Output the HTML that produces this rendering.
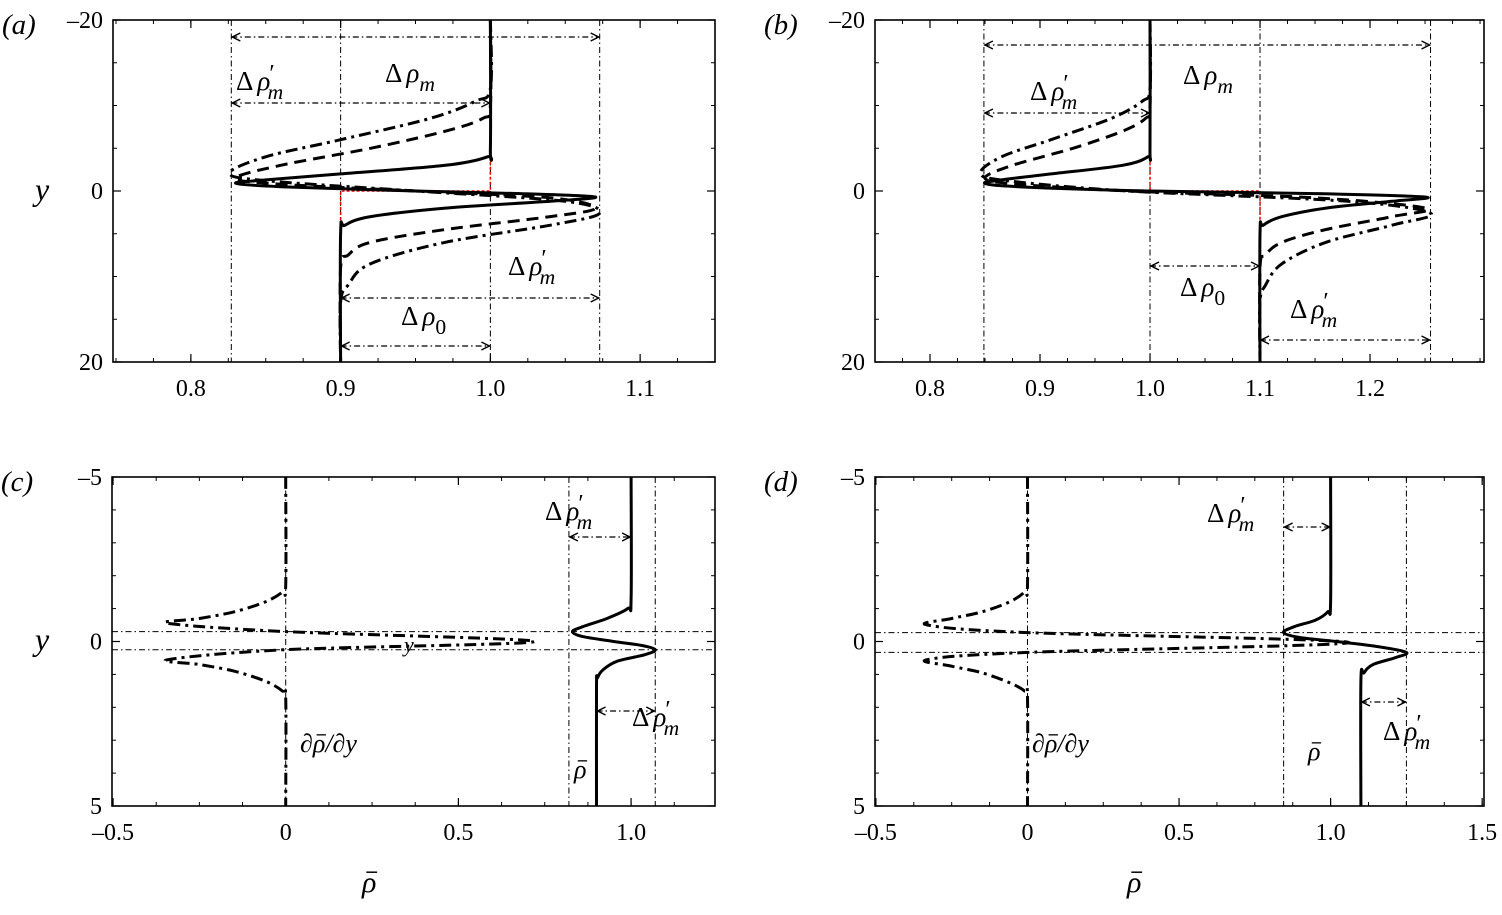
<!DOCTYPE html>
<html><head><meta charset="utf-8">
<style>
html,body{margin:0;padding:0;background:#fff;}
svg{display:block;font-family:"Liberation Serif","DejaVu Serif",serif;}
</style></head>
<body>
<svg id="fig" width="1502" height="915" viewBox="0 0 1502 915" xmlns="http://www.w3.org/2000/svg"></svg>
<script>
// ---------- data: panel (a) ----------
const aSolidY   = [-20,-5,-4,-3,-2,-1.3,-0.9,-0.5,0,0.3,0.7,1.2,2,3,4,5,20];
const aSolidR   = [1,1,0.998,0.97,0.9,0.85,0.83,0.86,0.95,1.02,1.07,1.04,0.97,0.92,0.903,0.9,0.9];
const aDashY    = [-20,-10,-8.5,-7,-5,-3,-1.5,-0.8,0,0.8,2,3,4.5,6,7.5,9,20];
const aDashR    = [1,1,0.995,0.97,0.92,0.86,0.83,0.86,0.95,1.04,1.07,1.04,0.97,0.92,0.905,0.9,0.9];
const aDotY     = [-20,-12,-10.5,-8.5,-6,-4,-2.1,-1.2,0,1.2,2.6,4,6,8.5,11,13,20];
const aDotR     = [1,1,0.99,0.96,0.9,0.85,0.826,0.85,0.95,1.05,1.073,1.04,0.97,0.92,0.905,0.9,0.9];
// ---------- data: panel (b) ----------
const bSolidY   = [-20,-5,-4,-3,-2,-1.3,-0.9,-0.5,0,0.3,0.7,1.2,2,3,4,5,20];
const bSolidR   = [1,1,0.998,0.975,0.91,0.865,0.85,0.88,1.0,1.15,1.25,1.22,1.16,1.12,1.103,1.1,1.1];
const bDashY    = [-20,-10,-8.5,-7,-5,-3,-1.5,-0.8,0,0.8,2,3,4.5,6,7.5,9,20];
const bDashR    = [1,1,0.996,0.975,0.93,0.875,0.85,0.88,0.98,1.15,1.25,1.22,1.16,1.12,1.105,1.1,1.1];
const bDotY     = [-20,-12,-10.5,-8.5,-6,-4,-2.1,-1.2,0,1.2,2.6,4,6,8.5,11,13,20];
const bDotR     = [1,1,0.993,0.965,0.91,0.865,0.846,0.87,0.98,1.18,1.255,1.22,1.16,1.12,1.105,1.1,1.1];
// ---------- data: panel (c) ----------
const cRhoY     = [-5,-1.3,-1.0,-0.7,-0.45,-0.3,-0.15,0,0.12,0.25,0.4,0.6,0.85,1.1,1.4,5];
const cRhoR     = [1,1,0.99,0.93,0.86,0.83,0.86,0.95,1.03,1.07,1.04,0.96,0.92,0.903,0.9,0.9];
const cDerY     = [-5,-1.7,-1.5,-1.2,-0.9,-0.7,-0.55,-0.3,0,0.25,0.55,0.7,0.9,1.2,1.5,1.7,5];
const cDerV     = [0,0,-0.01,-0.06,-0.15,-0.25,-0.34,0,0.72,0,-0.34,-0.25,-0.15,-0.06,-0.01,0,0];
// ---------- data: panel (d) ----------
const dRhoY     = [-5,-1.2,-0.9,-0.65,-0.45,-0.27,-0.12,0,0.15,0.33,0.5,0.7,0.95,1.2,5];
const dRhoR     = [1,1,0.99,0.95,0.88,0.845,0.9,1.02,1.15,1.25,1.21,1.14,1.11,1.1,1.1];
const dDerY     = [-5,-1.7,-1.5,-1.2,-0.9,-0.7,-0.5,-0.27,0.03,0.33,0.55,0.75,0.95,1.25,1.5,1.7,5];
const dDerV     = [0,0,-0.01,-0.06,-0.15,-0.25,-0.33,0,1.06,0,-0.33,-0.25,-0.15,-0.06,-0.01,0,0];
// ---------- tick labels ----------
const abYTicks  = [-20,0,20];
const cdYTicks  = [-5,0,5];
const aXTicks   = [0.8,0.9,1.0,1.1];
const bXTicks   = [0.8,0.9,1.0,1.1,1.2];
const cXTicks   = [-0.5,0,0.5,1.0];
const dXTicks   = [-0.5,0,0.5,1.0,1.5];

const NS="http://www.w3.org/2000/svg";
const svg=document.getElementById('fig');
function mk(tag,attrs,parent){const e=document.createElementNS(NS,tag);for(const k in attrs)e.setAttribute(k,attrs[k]);(parent||svg).appendChild(e);return e;}
function fmt(v){let s;if(Number.isInteger(v)&&Math.abs(v)>=2)s=String(Math.abs(v));else if(v===0)s='0';else s=Math.abs(v).toFixed(1);return (v<0?'\u2013':'')+s;}

function makePanel(p){
  const g=mk('g',{});
  
  
  p.g=g;
  p.x=v=>p.L+(v-p.x0)/(p.x1-p.x0)*(p.R-p.L);
  p.y=v=>p.T+(v-p.y0)/(p.y1-p.y0)*(p.B-p.T);
  return p;
}
function smooth(pts){
  let d='M'+pts[0][0].toFixed(1)+','+pts[0][1].toFixed(1);
  for(let i=0;i<pts.length-1;i++){
    const p0=pts[Math.max(0,i-1)],p1=pts[i],p2=pts[i+1],p3=pts[Math.min(pts.length-1,i+2)];
    const c1=[p1[0]+(p2[0]-p0[0])/6,p1[1]+(p2[1]-p0[1])/6];
    const c2=[p2[0]-(p3[0]-p1[0])/6,p2[1]-(p3[1]-p1[1])/6];
    d+='C'+c1[0].toFixed(1)+','+c1[1].toFixed(1)+' '+c2[0].toFixed(1)+','+c2[1].toFixed(1)+' '+p2[0].toFixed(1)+','+p2[1].toFixed(1);
  }
  return d;
}
function curve(p,ys,xs,style,name){
  const pts=ys.map((yy,i)=>[p.x(xs[i]),p.y(yy)]);
  const el=mk('path',{d:smooth(pts),fill:'none',stroke:'#000','stroke-width':3,'stroke-dasharray':style,'stroke-linejoin':'round'},p.g);
  
  
}
const DD='6,3,1.5,3';
function vline(p,v,name){const e=mk('line',{x1:p.x(v),x2:p.x(v),y1:p.T,y2:p.B,stroke:'#000','stroke-width':1,'stroke-dasharray':DD},p.g);}
function hline(p,v,name){const e=mk('line',{x1:p.L,x2:p.R,y1:p.y(v),y2:p.y(v),stroke:'#000','stroke-width':1,'stroke-dasharray':DD},p.g);}
function arrow(p,xa,xb,py,name){
  const X1=p.x(xa),X2=p.x(xb);
  const g=mk('g',{},p.g);
  
  
  mk('line',{x1:X1,x2:X2,y1:py,y2:py,stroke:'#000','stroke-width':1.2,'stroke-dasharray':DD},g);
  mk('path',{d:`M${X1+9},${py-4} L${X1+1},${py} L${X1+9},${py+4} M${X2-9},${py-4} L${X2-1},${py} L${X2-9},${py+4}`,fill:'none',stroke:'#000','stroke-width':1.4},g);
}
function dlabel(x,y,kind,name,size){
  size=size||27;
  const t=mk('text',{x:x,y:y,'font-size':size});
  
  
  t.appendChild(document.createTextNode('\u0394'));
  const r=mk('tspan',{'font-style':'italic',dx:4},t);r.textContent='\u03C1';
  if(kind==='mp'){const pr=mk('tspan',{dx:-1,dy:-9,'font-size':size*0.9},t);pr.textContent='\u2032';
    const s=mk('tspan',{'font-style':'italic',dx:-7,dy:18,'font-size':size*0.8},t);s.textContent='m';}
  else if(kind==='m'){const s=mk('tspan',{'font-style':'italic',dy:9,'font-size':size*0.8},t);s.textContent='m';}
  else {const s=mk('tspan',{dy:9,'font-size':size*0.8},t);s.textContent='0';}
}
// text with macron over the rho character (index ri)
function barText(x,y,str,ri,size,name){
  const t=mk('text',{x:x,y:y,'font-size':size,'font-style':'italic'});
  t.textContent=str;
  
  
  let a=x+size*0.1,b=x+size*0.45;
  try{const s=t.getStartPositionOfChar(ri).x,e=t.getEndPositionOfChar(ri).x;a=s+(e-s)*0.3;b=e+(e-s)*0.05;}catch(err){}
  mk('line',{x1:a,x2:b,y1:y-size*0.66,y2:y-size*0.66,stroke:'#000','stroke-width':Math.max(1.2,size*0.05)});
}
function frame(p,xt,yt,minorX,minorY,label){
  const g=p.g;
  for(let v=Math.ceil(p.x0/minorX-1e-9)*minorX;v<=p.x1+1e-9;v+=minorX){
    const X=p.x(v);mk('line',{x1:X,x2:X,y1:p.B,y2:p.B-4,stroke:'#000','stroke-width':1},g);mk('line',{x1:X,x2:X,y1:p.T,y2:p.T+4,stroke:'#000','stroke-width':1},g);}
  const ya=Math.min(p.y0,p.y1),yb=Math.max(p.y0,p.y1);
  for(let v=ya;v<=yb+1e-9;v+=minorY){const Y=p.y(v);mk('line',{x1:p.L,x2:p.L+4,y1:Y,y2:Y,stroke:'#000','stroke-width':1},g);mk('line',{x1:p.R,x2:p.R-4,y1:Y,y2:Y,stroke:'#000','stroke-width':1},g);}
  xt.forEach(v=>{const X=p.x(v);mk('line',{x1:X,x2:X,y1:p.B,y2:p.B-8,stroke:'#000','stroke-width':1.2},g);mk('line',{x1:X,x2:X,y1:p.T,y2:p.T+8,stroke:'#000','stroke-width':1.2},g);
    const t=mk('text',{x:X,y:p.B+34,'text-anchor':'middle','font-size':24},g);t.textContent=fmt(v);});
  yt.forEach(v=>{const Y=p.y(v);mk('line',{x1:p.L,x2:p.L+8,y1:Y,y2:Y,stroke:'#000','stroke-width':1.2},g);mk('line',{x1:p.R,x2:p.R-8,y1:Y,y2:Y,stroke:'#000','stroke-width':1.2},g);
    const t=mk('text',{x:p.L-10,y:Y+8,'text-anchor':'end','font-size':24},g);t.textContent=fmt(v);});
  const r=mk('rect',{x:p.L,y:p.T,width:p.R-p.L,height:p.B-p.T,fill:'none',stroke:'#000','stroke-width':1.6},g);
  
  const lt=mk('text',{x:p.L-111,y:p.T+14,'font-size':29,'font-style':'italic'});
  lt.textContent=label;
}
function redStep(p,top,bot,ye){
  const e=mk('path',{d:`M${p.x(top)},${p.y(-ye)} L${p.x(top)},${p.y(0)} L${p.x(bot)},${p.y(0)} L${p.x(bot)},${p.y(ye)}`,fill:'none',stroke:'#e00','stroke-width':1.5,'stroke-dasharray':'3,2'},p.g);
  
}

// ---------- panel a ----------
const A=makePanel({id:'a',L:113,R:715,T:20,B:362,x0:0.748,x1:1.150,y0:-20,y1:20});
vline(A,0.827,'ref-line-min');vline(A,0.9,'ref-line-lower');vline(A,1.0,'ref-line-upper');vline(A,1.073,'ref-line-max');
redStep(A,1.0,0.9,4);
curve(A,aDotY,aDotR,'12,5,3,5','profile-dashdot');
curve(A,aDashY,aDashR,'12,7','profile-dashed');
curve(A,aSolidY,aSolidR,'none','profile-solid');
arrow(A,0.827,1.073,37,'arrow-total');
arrow(A,0.827,1.0,103,'arrow-dprime-top');
arrow(A,0.9,1.073,298,'arrow-dprime-bottom');
arrow(A,0.9,1.0,346,'arrow-d0');
dlabel(236,90,'mp','label-drho-prime-m-top');
dlabel(385,82,'m','label-drho-m');
dlabel(508,275,'mp','label-drho-prime-m-bottom');
dlabel(401,325,'0','label-drho-0');
frame(A,aXTicks,abYTicks,0.025,5,'(a)');

// ---------- panel b ----------
const Bp=makePanel({id:'b',L:875,R:1484,T:20,B:362,x0:0.75,x1:1.3036,y0:-20,y1:20});
vline(Bp,0.849,'ref-line-min');vline(Bp,1.0,'ref-line-upper');vline(Bp,1.1,'ref-line-lower');vline(Bp,1.255,'ref-line-max');
redStep(Bp,1.0,1.1,4);
curve(Bp,bDotY,bDotR,'12,5,3,5','profile-dashdot');
curve(Bp,bDashY,bDashR,'12,7','profile-dashed');
curve(Bp,bSolidY,bSolidR,'none','profile-solid');
arrow(Bp,0.849,1.255,45,'arrow-total');
arrow(Bp,0.849,1.0,113,'arrow-dprime-top');
arrow(Bp,1.0,1.1,266,'arrow-d0');
arrow(Bp,1.1,1.255,340,'arrow-dprime-bottom');
dlabel(1030,100,'mp','label-drho-prime-m-top');
dlabel(1183,84,'m','label-drho-m');
dlabel(1180,296,'0','label-drho-0');
dlabel(1290,318,'mp','label-drho-prime-m-bottom');
frame(Bp,bXTicks,abYTicks,0.025,5,'(b)');

// ---------- panel c ----------
const C=makePanel({id:'c',L:112,R:715,T:477,B:806,x0:-0.503,x1:1.243,y0:-5,y1:5});
vline(C,0,'zero-line');vline(C,0.82,'ref-line-min');vline(C,1.07,'ref-line-max');
hline(C,-0.3,'ref-line-ymin');hline(C,0.25,'ref-line-ymax');
curve(C,cDerY,cDerV,'12,5,3,5','gradient-curve');
curve(C,cRhoY,cRhoR,'none','density-curve');
arrow(C,0.82,1.0,537,'arrow-dprime-top');
arrow(C,0.9,1.07,711,'arrow-dprime-bottom');
dlabel(545,520,'mp','label-drho-prime-m-top');
dlabel(632,726,'mp','label-drho-prime-m-bottom');
barText(300,752,'\u2202\u03C1/\u2202y',1,26,'label-gradient');
barText(574,778,'\u03C1',0,26,'label-rho-bar');
{const t3=mk('text',{x:404,y:652,'font-size':22,'font-style':'italic'});t3.textContent='y';}
frame(C,cXTicks,cdYTicks,0.125,1,'(c)');

// ---------- panel d ----------
const Dp=makePanel({id:'d',L:875,R:1484,T:477,B:806,x0:-0.503,x1:1.506,y0:-5,y1:5});
vline(Dp,0,'zero-line');vline(Dp,0.845,'ref-line-min');vline(Dp,1.25,'ref-line-max');
hline(Dp,-0.27,'ref-line-ymin');hline(Dp,0.33,'ref-line-ymax');
curve(Dp,dDerY,dDerV,'12,5,3,5','gradient-curve');
curve(Dp,dRhoY,dRhoR,'none','density-curve');
arrow(Dp,0.845,1.0,527,'arrow-dprime-top');
arrow(Dp,1.1,1.25,702,'arrow-dprime-bottom');
dlabel(1207,522,'mp','label-drho-prime-m-top');
dlabel(1383,740,'mp','label-drho-prime-m-bottom');
barText(1032,752,'\u2202\u03C1/\u2202y',1,26,'label-gradient');
barText(1308,760,'\u03C1',0,26,'label-rho-bar');
frame(Dp,dXTicks,cdYTicks,0.125,1,'(d)');

// axis titles
[[35,200],[35,650]].forEach(([x,y])=>{const t=mk('text',{x:x,y:y,'font-size':32,'font-style':'italic'});t.textContent='y';});
barText(362,892,'\u03C1',0,30,'x-axis-title');
barText(1127,892,'\u03C1',0,30,'x-axis-title');
</script>
</body></html>
